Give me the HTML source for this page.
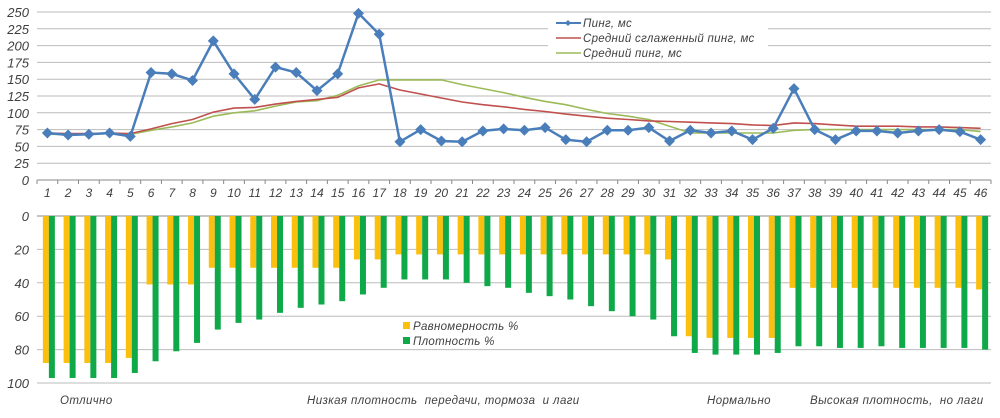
<!DOCTYPE html>
<html><head><meta charset="utf-8"><style>
html,body{margin:0;padding:0;background:#fff;}
svg text{font-family:"Liberation Sans",sans-serif;font-style:italic;fill:#404040;}
</style></head><body>
<svg id="s" width="1000" height="413" xmlns="http://www.w3.org/2000/svg"></svg>
<script>
const s=document.getElementById('s');let h='';
const X0=37,W=954,N=46,cw=W/N;
const cx=i=>X0+cw*(i+0.5);
const ty=v=>180-v*168/250;
const by=v=>216+v*167/100;
for(let v=0;v<=250;v+=25){const y=ty(v);h+=`<line x1="${X0}" y1="${y}" x2="991" y2="${y}" stroke="${v==0?'#888':'#bbb'}" stroke-width="1"/>`;
h+=`<text x="29" y="${y+5}" font-size="13" text-anchor="end">${v}</text>`;}
for(let i=0;i<=N;i++){const x=X0+cw*i;h+=`<line x1="${x}" y1="180" x2="${x}" y2="184" stroke="#888"/>`;}
for(let i=0;i<N;i++)h+=`<text x="${cx(i)}" y="197" font-size="12" text-anchor="middle">${i+1}</text>`;
for(let v=0;v<=100;v+=20){const y=by(v);h+=`<line x1="${X0}" y1="${y}" x2="991" y2="${y}" stroke="${v==0?'#888':'#bbb'}"/>`;
h+=`<text x="29" y="${y+5}" font-size="13" text-anchor="end">${v}</text>`;}
const ye=[88,88,88,88,85,41,41,41,31,31,31,31,31,31,31,26,26,23,23,23,23,23,23,23,23,23,23,23,23,23,26,72,73,73,73,73,43,43,43,43,43,43,43,43,43,44];
const gr=[97,97,97,97,94,87,81,76,68,64,62,58,55,53,51,47,43,38,38,38,40,42,43,46,48,50,54,57,60,62,72,82,83,83,83,82,78,78,79,79,78,79,79,79,79,80];
for(let i=0;i<N;i++){const c=cx(i);h+=`<rect x="${c-4.5}" y="216" width="6" height="${by(ye[i])-216}" fill="#fbbf0d"/>`;
h+=`<rect x="${c+1.5}" y="216" width="6" height="${by(gr[i])-216}" fill="#10a94a"/>`;}
const p=[70,67,68,70,65,160,158,148,207,158,120,168,160,133,158,248,217,57,75,58,57,73,76,74,78,60,57,74,74,78,58,74,70,73,60,77,136,75,60,73,73,70,73,75,72,60];
const r=[70,69,69,70,69,76,84,90,101,107,108,113,117,120,123,137,143,134,128,122,116,112,109,105,102,98,95,92,90,88,87,86,85,84,82,81,85,84,82,80,80,80,79,79,78,77];
const g=[68,68,68,69,68,74,79,85,95,100,103,110,116,118,126,140,149,149,149,149,142,136,130,123,117,112,105,99,95,90,80,70,70,70,70,70,74,75,75,75,75,75,75,75,75,72];
const pl=a=>a.map((v,i)=>cx(i).toFixed(1)+','+ty(v).toFixed(1)).join(' ');
h+=`<polyline points="${pl(g)}" fill="none" stroke="#9bbb59" stroke-width="1.6"/>`;
h+=`<polyline points="${pl(r)}" fill="none" stroke="#c0504d" stroke-width="1.6"/>`;
h+=`<polyline points="${pl(p)}" fill="none" stroke="#4a7ebb" stroke-width="2.5"/>`;
p.forEach((v,i)=>{const x=cx(i),y=ty(v);h+=`<polygon points="${x},${y-5.5} ${x+5.5},${y} ${x},${y+5.5} ${x-5.5},${y}" fill="#4a7ebb"/>`;});
h+=`<rect x="548" y="15" width="220" height="46" fill="#fff"/>`;
const L=[['#4a7ebb','Пинг, мс',23],['#c0504d','Средний сглаженный пинг, мс',38],['#9bbb59','Средний пинг, мс',53]];
L.forEach((l,k)=>{h+=`<line x1="556" y1="${l[2]}" x2="581" y2="${l[2]}" stroke="${l[0]}" stroke-width="${k?1.5:2}"/>`;
if(!k)h+=`<polygon points="568,${l[2]-3} 571,${l[2]} 568,${l[2]+3} 565,${l[2]}" fill="${l[0]}"/>`;
h+=`<text x="583" y="${l[2]+4}" font-size="11.5" letter-spacing="0.3">${l[1]}</text>`;});
h+=`<rect x="400" y="318" width="140" height="28" fill="#fff"/>`;
h+=`<rect x="403" y="322" width="7" height="7" fill="#fbbf0d"/><text x="413" y="330" font-size="11.5" letter-spacing="0.3">Равномерность %</text>`;
h+=`<rect x="403" y="337" width="7" height="7" fill="#10a94a"/><text x="413" y="345" font-size="11.5" letter-spacing="0.3">Плотность %</text>`;
[[60,'Отлично'],[307,'Низкая плотность  передачи, тормоза  и лаги'],[707,'Нормально'],[810,'Высокая плотность,  но лаги']].forEach(t=>h+=`<text x="${t[0]}" y="404" font-size="11.5" letter-spacing="0.4" xml:space="preserve">${t[1]}</text>`);
s.innerHTML=h;
</script>
</body></html>
